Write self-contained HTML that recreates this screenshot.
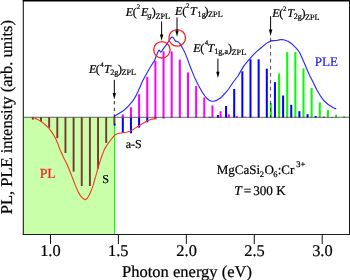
<!DOCTYPE html>
<html><head><meta charset="utf-8"><style>
html,body{margin:0;padding:0;background:#fff;}
body{width:350px;height:280px;overflow:hidden;}
svg{display:block;will-change:transform;}
text{font-family:"Liberation Serif",serif;text-rendering:geometricPrecision;stroke-width:0.22px;paint-order:stroke;}
</style></head><body>
<svg width="350" height="280" viewBox="0 0 350 280">
<rect x="23.5" y="117.5" width="91.2" height="117" fill="#c8ffa8"/>
<line x1="114.6" y1="118" x2="114.6" y2="234" stroke="#1af51a" stroke-width="1.25"/>
<rect x="31.90" y="117.50" width="1.90" height="2.10" fill="#7a3535"/>
<rect x="40.05" y="117.50" width="1.90" height="4.10" fill="#7a3535"/>
<rect x="48.20" y="117.50" width="1.90" height="10.30" fill="#7a3535"/>
<rect x="56.35" y="117.50" width="1.90" height="20.70" fill="#7a3535"/>
<rect x="64.50" y="117.50" width="1.90" height="35.50" fill="#7a3535"/>
<rect x="72.65" y="117.50" width="1.90" height="54.10" fill="#7a3535"/>
<rect x="80.80" y="117.50" width="1.90" height="68.50" fill="#7a3535"/>
<rect x="88.95" y="117.50" width="1.90" height="68.50" fill="#7a3535"/>
<rect x="97.10" y="117.50" width="1.90" height="51.20" fill="#7a3535"/>
<rect x="105.25" y="117.50" width="1.90" height="25.40" fill="#7a3535"/>
<rect x="113.40" y="117.50" width="1.90" height="6.50" fill="#7a3535"/>
<rect x="113.65" y="123.80" width="2.00" height="1.80" fill="#0000ff"/>
<rect x="121.80" y="117.50" width="2.00" height="15.50" fill="#0000ff"/>
<rect x="129.95" y="117.50" width="2.00" height="15.80" fill="#0000ff"/>
<rect x="138.10" y="117.50" width="2.00" height="10.10" fill="#0000ff"/>
<rect x="146.25" y="117.50" width="2.00" height="4.90" fill="#0000ff"/>
<rect x="154.40" y="117.50" width="2.00" height="1.80" fill="#0000ff"/>
<rect x="162.55" y="117.50" width="2.00" height="0.90" fill="#0000ff"/>
<rect x="121.80" y="114.50" width="2.00" height="3.00" fill="#ff00ff"/>
<rect x="129.95" y="107.30" width="2.00" height="10.20" fill="#ff00ff"/>
<rect x="138.10" y="94.30" width="2.00" height="23.20" fill="#ff00ff"/>
<rect x="146.25" y="76.80" width="2.00" height="40.70" fill="#ff00ff"/>
<rect x="154.40" y="60.80" width="2.00" height="56.70" fill="#ff00ff"/>
<rect x="162.55" y="51.30" width="2.00" height="66.20" fill="#ff00ff"/>
<rect x="170.70" y="51.40" width="2.00" height="66.10" fill="#ff00ff"/>
<rect x="178.85" y="59.60" width="2.00" height="57.90" fill="#ff00ff"/>
<rect x="187.00" y="72.40" width="2.00" height="45.10" fill="#ff00ff"/>
<rect x="195.15" y="86.10" width="2.00" height="31.40" fill="#ff00ff"/>
<rect x="203.30" y="97.40" width="2.00" height="20.10" fill="#ff00ff"/>
<rect x="211.45" y="105.40" width="2.00" height="12.10" fill="#ff00ff"/>
<rect x="219.60" y="111.20" width="2.00" height="6.30" fill="#ff00ff"/>
<rect x="227.75" y="114.30" width="2.00" height="3.20" fill="#ff00ff"/>
<rect x="235.90" y="116.20" width="2.00" height="1.30" fill="#ff00ff"/>
<rect x="244.05" y="116.80" width="2.00" height="0.70" fill="#ff00ff"/>
<rect x="252.20" y="117.10" width="2.00" height="0.40" fill="#ff00ff"/>
<rect x="208.75" y="116.80" width="2.00" height="0.70" fill="#0000ff"/>
<rect x="216.90" y="115.00" width="2.00" height="2.50" fill="#0000ff"/>
<rect x="225.05" y="106.00" width="2.00" height="11.50" fill="#0000ff"/>
<rect x="233.20" y="89.00" width="2.00" height="28.50" fill="#0000ff"/>
<rect x="241.35" y="71.30" width="2.00" height="46.20" fill="#0000ff"/>
<rect x="249.50" y="59.30" width="2.00" height="58.20" fill="#0000ff"/>
<rect x="257.65" y="59.30" width="2.00" height="58.20" fill="#0000ff"/>
<rect x="265.80" y="68.70" width="2.00" height="48.80" fill="#0000ff"/>
<rect x="273.95" y="82.10" width="2.00" height="35.40" fill="#0000ff"/>
<rect x="282.10" y="95.50" width="2.00" height="22.00" fill="#0000ff"/>
<rect x="290.25" y="104.80" width="2.00" height="12.70" fill="#0000ff"/>
<rect x="298.40" y="111.20" width="2.00" height="6.30" fill="#0000ff"/>
<rect x="306.55" y="114.20" width="2.00" height="3.30" fill="#0000ff"/>
<rect x="314.70" y="116.00" width="2.00" height="1.50" fill="#0000ff"/>
<rect x="322.85" y="116.80" width="2.00" height="0.70" fill="#0000ff"/>
<rect x="331.00" y="117.10" width="2.00" height="0.40" fill="#0000ff"/>
<rect x="269.90" y="103.00" width="2.00" height="14.50" fill="#00ff00"/>
<rect x="278.05" y="73.50" width="2.00" height="44.00" fill="#00ff00"/>
<rect x="286.20" y="52.10" width="2.00" height="65.40" fill="#00ff00"/>
<rect x="294.35" y="52.10" width="2.00" height="65.40" fill="#00ff00"/>
<rect x="302.50" y="68.30" width="2.00" height="49.20" fill="#00ff00"/>
<rect x="310.65" y="88.00" width="2.00" height="29.50" fill="#00ff00"/>
<rect x="318.80" y="102.30" width="2.00" height="15.20" fill="#00ff00"/>
<rect x="326.95" y="110.00" width="2.00" height="7.50" fill="#00ff00"/>
<rect x="335.10" y="114.80" width="2.00" height="2.70" fill="#00ff00"/>
<rect x="343.25" y="116.20" width="2.00" height="1.30" fill="#00ff00"/>
<line x1="23.5" y1="117.4" x2="349" y2="117.4" stroke="#000" stroke-opacity="0.47" stroke-width="1.1"/>
<path d="M33.75,117.60 L37.50,119.40 L41.25,121.60 L45.00,124.50 L48.75,128.20 L52.50,133.10 L54.50,136.50 L56.25,140.00 L58.00,144.00 L59.80,149.20 L61.80,153.60 L63.80,157.90 L67.10,164.50 L70.30,172.20 L73.30,180.00 L75.40,185.40 L78.00,191.60 L80.70,196.10 L83.40,198.75 L85.20,199.80 L87.40,198.30 L89.60,194.30 L91.90,188.90 L93.70,183.60 L94.60,180.00 L95.70,176.40 L97.80,168.90 L101.10,158.20 L104.30,149.60 L107.50,144.30 L110.70,140.00 L113.60,136.40 L115.00,134.80 L117.90,133.50 L122.40,132.80 L126.40,132.20 L130.00,131.20 L134.10,128.90 L138.20,126.30 L142.30,123.80 L146.50,121.20 L150.60,119.40 L154.70,118.60 L156.00,118.50" fill="none" stroke="#ff3322" stroke-width="1.1" stroke-linejoin="round"/>
<path d="M114.00,116.60 L118.10,114.10 L122.90,111.10 L127.80,106.80 L130.90,103.20 L132.60,101.10 L134.50,98.30 L136.30,95.10 L138.00,91.60 L139.50,88.30 L142.70,80.80 L146.60,73.70 L150.50,66.80 L154.50,60.60 L156.70,55.00 L158.10,51.60 L158.90,50.10 L159.60,50.50 L160.70,52.20 L161.50,51.60 L162.50,50.00 L163.40,48.70 L166.10,45.10 L168.60,41.20 L170.80,37.90 L172.10,37.10 L173.50,38.00 L174.80,40.30 L175.70,41.10 L177.10,41.40 L178.40,42.10 L179.70,43.40 L181.10,45.60 L182.90,48.75 L184.60,51.90 L186.00,55.40 L187.30,58.60 L188.80,62.90 L190.40,67.00 L192.00,71.10 L195.30,79.10 L198.50,85.50 L201.70,91.20 L204.90,96.00 L207.30,98.80 L209.60,100.50 L211.80,101.30 L214.10,101.20 L216.40,100.40 L218.70,99.10 L220.50,98.10 L223.90,94.50 L226.30,91.90 L228.60,89.00 L233.30,82.00 L238.00,76.00 L240.90,70.90 L244.40,65.10 L248.00,60.90 L252.30,55.90 L256.60,51.60 L260.90,48.00 L265.10,44.40 L268.00,42.40 L270.70,40.90 L273.60,40.60 L276.40,40.50 L279.30,39.90 L281.40,39.50 L283.60,39.80 L287.90,41.30 L292.10,44.10 L296.40,48.40 L299.30,52.00 L301.00,55.60 L302.20,58.20 L305.80,66.50 L309.40,74.90 L313.00,82.10 L316.50,89.30 L320.10,95.30 L323.70,100.50 L328.50,104.80 L333.30,107.70 L336.20,108.90" fill="none" stroke="#2a2aff" stroke-width="1.15" stroke-linejoin="round"/>
<circle cx="161.9" cy="49.8" r="8.2" fill="none" stroke="#ff1a1a" stroke-width="1.3"/>
<circle cx="177.2" cy="37.9" r="8.3" fill="none" stroke="#ff1a1a" stroke-width="1.3"/>
<line x1="114.30" y1="79.80" x2="114.30" y2="95.20" stroke="#000" stroke-width="1"/><path d="M112.60,92.90 L116.00,92.90 L114.30,99.20 Z" fill="#000"/>
<line x1="114.3" y1="101.0" x2="114.3" y2="117" stroke="#000" stroke-width="1" stroke-dasharray="3.4,3.3" opacity="0.85"/>
<line x1="161.60" y1="21.40" x2="161.60" y2="36.70" stroke="#000" stroke-width="1"/><path d="M159.90,34.40 L163.30,34.40 L161.60,40.70 Z" fill="#000"/>
<line x1="177.00" y1="17.40" x2="177.00" y2="32.70" stroke="#000" stroke-width="1"/><path d="M175.30,30.40 L178.70,30.40 L177.00,36.70 Z" fill="#000"/>
<line x1="217.90" y1="58.60" x2="217.90" y2="74.00" stroke="#000" stroke-width="1"/><path d="M216.20,71.70 L219.60,71.70 L217.90,78.00 Z" fill="#000"/>
<line x1="270.60" y1="16.20" x2="270.60" y2="31.90" stroke="#000" stroke-width="1"/><path d="M268.90,29.60 L272.30,29.60 L270.60,35.90 Z" fill="#000"/>
<line x1="270.6" y1="37.9" x2="270.6" y2="117" stroke="#000" stroke-width="1" stroke-dasharray="3.7,3.3" opacity="0.7"/>
<line x1="23.3" y1="0" x2="23.3" y2="235" stroke="#111" stroke-width="1.05"/>
<line x1="22.8" y1="0.7" x2="350" y2="0.7" stroke="#000" stroke-width="1.4"/>
<line x1="349.5" y1="0" x2="349.5" y2="235" stroke="#181818" stroke-width="1.0"/>
<line x1="22.8" y1="234.5" x2="350" y2="234.5" stroke="#1c1c1c" stroke-width="1.0"/>
<line x1="50.50" y1="234.5" x2="50.50" y2="244" stroke="#111" stroke-width="1"/>
<text x="40.14" y="256.10" font-size="16.40" fill="#000" stroke="#000">1.0</text>
<line x1="118.42" y1="234.5" x2="118.42" y2="244" stroke="#111" stroke-width="1"/>
<text x="108.07" y="256.10" font-size="16.40" fill="#000" stroke="#000">1.5</text>
<line x1="186.35" y1="234.5" x2="186.35" y2="244" stroke="#111" stroke-width="1"/>
<text x="176.35" y="256.10" font-size="16.40" fill="#000" stroke="#000">2.0</text>
<line x1="254.27" y1="234.5" x2="254.27" y2="244" stroke="#111" stroke-width="1"/>
<text x="244.28" y="256.10" font-size="16.40" fill="#000" stroke="#000">2.5</text>
<line x1="322.20" y1="234.5" x2="322.20" y2="244" stroke="#111" stroke-width="1"/>
<text x="312.17" y="256.10" font-size="16.40" fill="#000" stroke="#000">3.0</text>
<text x="122.12" y="276.70" font-size="16.50" fill="#000" stroke="#000">Photon energy (eV)</text>
<text transform="translate(11.8,214.28) rotate(-90)" font-size="16.5" stroke="#000">PL, PLE intensity (arb. units)</text>
<text x="39.70" y="178.20" font-size="13.80" fill="#ff1a1a" stroke="#ff1a1a">PL</text>
<text x="102.29" y="183.20" font-size="12.10" fill="#000" stroke="#000">S</text>
<text x="125.68" y="147.80" font-size="12.00" fill="#000" stroke="#000">a-S</text>
<text x="314.72" y="66.10" font-size="13.10" fill="#2222ff" stroke="#2222ff">PLE</text>
<text x="216.73" y="173.70" font-size="13.00" fill="#000" stroke="#000">MgCaSi</text>
<text x="259.83" y="177.10" font-size="8.50" fill="#000" stroke="#000">2</text>
<text x="264.57" y="173.70" font-size="13.00" fill="#000" stroke="#000">O</text>
<text x="273.23" y="177.10" font-size="8.50" fill="#000" stroke="#000">6</text>
<text x="277.67" y="173.70" font-size="13.00" fill="#000" stroke="#000">:Cr</text>
<text x="296.19" y="166.60" font-size="8.50" fill="#000" stroke="#000">3+</text>
<text x="234.32" y="194.70" font-size="13.40" font-style="italic" fill="#000" stroke="#000">T</text>
<text x="243.83" y="194.70" font-size="13.40" fill="#000" stroke="#000">=</text>
<text x="253.17" y="194.70" font-size="13.20" fill="#000" stroke="#000">300 K</text>
<text x="89.04" y="72.90" font-size="12.00" font-style="italic" fill="#000" stroke="#000">E</text>
<text x="95.87" y="72.90" font-size="12.00" fill="#000" stroke="#000">(</text>
<text x="100.17" y="66.80" font-size="6.90" fill="#000" stroke="#000">4</text>
<text x="103.91" y="72.90" font-size="12.00" font-style="italic" fill="#000" stroke="#000">T</text>
<text x="110.14" y="74.90" font-size="8.20" fill="#000" stroke="#000">2g</text>
<text x="117.91" y="72.90" font-size="12.00" fill="#000" stroke="#000">)</text>
<text x="121.51" y="75.40" font-size="8.20" fill="#000" stroke="#000">ZPL</text>
<text x="125.74" y="16.30" font-size="12.00" font-style="italic" fill="#000" stroke="#000">E</text>
<text x="132.87" y="16.30" font-size="12.00" fill="#000" stroke="#000">(</text>
<text x="136.80" y="9.30" font-size="6.90" fill="#000" stroke="#000">2</text>
<text x="141.04" y="16.30" font-size="12.00" font-style="italic" fill="#000" stroke="#000">E</text>
<text x="147.40" y="17.90" font-size="8.20" font-style="italic" fill="#000" stroke="#000">g</text>
<text x="151.81" y="16.30" font-size="12.00" fill="#000" stroke="#000">)</text>
<text x="155.41" y="18.80" font-size="8.20" fill="#000" stroke="#000">ZPL</text>
<text x="175.04" y="14.50" font-size="12.00" font-style="italic" fill="#000" stroke="#000">E</text>
<text x="182.17" y="14.50" font-size="12.00" fill="#000" stroke="#000">(</text>
<text x="185.90" y="8.30" font-size="6.90" fill="#000" stroke="#000">2</text>
<text x="190.01" y="14.50" font-size="12.00" font-style="italic" fill="#000" stroke="#000">T</text>
<text x="197.58" y="16.90" font-size="8.20" fill="#000" stroke="#000">1g</text>
<text x="204.61" y="14.50" font-size="12.00" fill="#000" stroke="#000">)</text>
<text x="208.11" y="17.00" font-size="8.20" fill="#000" stroke="#000">ZPL</text>
<text x="193.24" y="51.80" font-size="12.00" font-style="italic" fill="#000" stroke="#000">E</text>
<text x="200.17" y="51.80" font-size="12.00" fill="#000" stroke="#000">(</text>
<text x="204.77" y="44.90" font-size="6.90" fill="#000" stroke="#000">4</text>
<text x="207.41" y="51.80" font-size="12.00" font-style="italic" fill="#000" stroke="#000">T</text>
<text x="214.18" y="54.40" font-size="8.20" fill="#000" stroke="#000">1g,a</text>
<text x="228.01" y="51.80" font-size="12.00" fill="#000" stroke="#000">)</text>
<text x="231.61" y="54.80" font-size="8.20" fill="#000" stroke="#000">ZPL</text>
<text x="272.24" y="16.90" font-size="12.00" font-style="italic" fill="#000" stroke="#000">E</text>
<text x="279.37" y="16.90" font-size="12.00" fill="#000" stroke="#000">(</text>
<text x="283.10" y="10.60" font-size="6.90" fill="#000" stroke="#000">2</text>
<text x="287.31" y="16.90" font-size="12.00" font-style="italic" fill="#000" stroke="#000">T</text>
<text x="293.74" y="19.40" font-size="8.20" fill="#000" stroke="#000">2g</text>
<text x="301.51" y="16.90" font-size="12.00" fill="#000" stroke="#000">)</text>
<text x="304.91" y="20.20" font-size="8.20" fill="#000" stroke="#000">ZPL</text>
</svg>
</body></html>
